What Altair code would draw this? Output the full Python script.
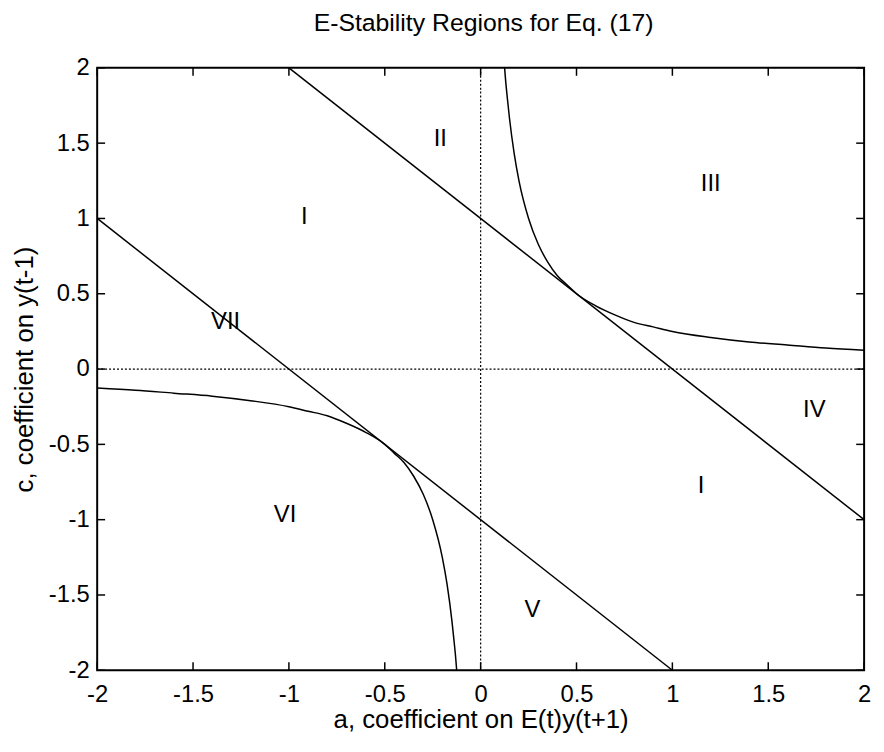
import altair as alt
import pandas as pd

# ---- data ----
x_ticks = [-2, -1.5, -1, -0.5, 0, 0.5, 1, 1.5, 2]
y_ticks = [-2, -1.5, -1, -0.5, 0, 0.5, 1, 1.5, 2]

line1_a = [-1.0, 2.0]
line1_c = [2.0, -1.0]
line2_a = [-2.0, 1.0]
line2_c = [1.0, -2.0]

upper_a = [0.125, 0.13, 0.14, 0.15, 0.175, 0.2, 0.25, 0.3, 0.35, 0.4, 0.45, 0.5,
           0.6, 0.7, 0.8, 0.9, 1.0, 1.2, 1.4, 1.6, 1.8, 2.0]
upper_c = [2.0, 1.92, 1.79, 1.67, 1.43, 1.25, 1.0, 0.83, 0.71, 0.62, 0.56, 0.5,
           0.42, 0.36, 0.31, 0.28, 0.25, 0.21, 0.18, 0.16, 0.14, 0.125]
lower_a = [-2.0, -1.8, -1.6, -1.4, -1.2, -1.0, -0.9, -0.8, -0.7, -0.6, -0.5, -0.45,
           -0.4, -0.35, -0.3, -0.25, -0.2, -0.175, -0.15, -0.14, -0.13, -0.125]
lower_c = [-0.125, -0.14, -0.16, -0.18, -0.21, -0.25, -0.28, -0.31, -0.36, -0.42, -0.5, -0.56,
           -0.62, -0.71, -0.83, -1.0, -1.25, -1.43, -1.67, -1.79, -1.92, -2.0]

region_labels = ["II", "III", "I", "VII", "IV", "I", "VI", "V"]
region_a = [-0.21, 1.20, -0.92, -1.33, 1.74, 1.15, -1.02, 0.27]
region_c = [1.53, 1.23, 1.01, 0.31, -0.27, -0.78, -0.97, -1.60]

title_text = ["E-Stability Regions for Eq. (17)"]
x_title = "a, coefficient on E(t)y(t+1)"
y_title = "c, coefficient on y(t-1)"

# ---- build tables ----
rows = []
for name, aa, cc in [("l1", line1_a, line1_c), ("l2", line2_a, line2_c),
                     ("up", upper_a, upper_c), ("lo", lower_a, lower_c)]:
    for i, (a, c) in enumerate(zip(aa, cc)):
        rows.append({"curve": name, "i": i, "a": a, "c": c})
curves = pd.DataFrame(rows)
labels = pd.DataFrame({"a": region_a, "c": region_c, "t": region_labels})
xt = pd.DataFrame({"a": x_ticks})
yt = pd.DataFrame({"c": y_ticks})
zero_x = pd.DataFrame({"a": [0]})
zero_y = pd.DataFrame({"c": [0]})
title_df = pd.DataFrame({"t": title_text})

W, H = 774, 608
FONT = "Liberation Sans"
TL = 8

xs = alt.Scale(domain=[-2, 2], nice=False, zero=False)
ys = alt.Scale(domain=[-2, 2], nice=False, zero=False)

xaxis = alt.Axis(values=x_ticks, labelExpr="toString(datum.value)", ticks=False, domain=False,
                 grid=False, labelFont=FONT, labelFontSize=24, labelColor="black",
                 labelPadding=12, labelFlush=False, labelOverlap=False, labelBound=False,
                 title=x_title, titleFont=FONT, titleFontSize=26, titleFontWeight="normal",
                 titleColor="black", titleY=58, titleBaseline="alphabetic")
yaxis = alt.Axis(values=y_ticks, labelExpr="toString(datum.value)", ticks=False, domain=False,
                 grid=False, labelFont=FONT, labelFontSize=24, labelColor="black",
                 labelPadding=8, labelFlush=False, labelOverlap=False, labelBound=False,
                 title=y_title, titleFont=FONT, titleFontSize=26, titleFontWeight="normal",
                 titleColor="black", titleX=-65, titleY=H / 2, titleAngle=-90,
                 titleBaseline="alphabetic", titleAlign="center")

X = alt.X("a:Q", scale=xs, axis=xaxis)
Y = alt.Y("c:Q", scale=ys, axis=yaxis)

lines = alt.Chart(curves).mark_line(color="black", strokeWidth=1.5, interpolate="monotone").encode(
    x=X, y=Y, detail="curve:N", order="i:Q")

vdot = alt.Chart(zero_x).mark_rule(color="black", strokeWidth=1.2, strokeDash=[2, 2]).encode(
    x=X, y=alt.value(0), y2=alt.value(H))
hdot = alt.Chart(zero_y).mark_rule(color="black", strokeWidth=1.2, strokeDash=[2, 2]).encode(
    y=Y, x=alt.value(0), x2=alt.value(W))

tick_bottom = alt.Chart(xt).mark_rule(color="black", strokeWidth=1.5).encode(
    x=X, y=alt.value(H), y2=alt.value(H - TL))
tick_top = alt.Chart(xt).mark_rule(color="black", strokeWidth=1.5).encode(
    x=X, y=alt.value(0), y2=alt.value(TL))
tick_left = alt.Chart(yt).mark_rule(color="black", strokeWidth=1.5).encode(
    y=Y, x=alt.value(0), x2=alt.value(TL))
tick_right = alt.Chart(yt).mark_rule(color="black", strokeWidth=1.5).encode(
    y=Y, x=alt.value(W), x2=alt.value(W - TL))

texts = alt.Chart(labels).mark_text(font=FONT, fontSize=24, color="black",
                                    align="center", baseline="middle").encode(
    x=X, y=Y, text="t:N")

title_mark = alt.Chart(title_df).mark_text(font=FONT, fontSize=25, color="black",
                                           align="center", baseline="alphabetic").encode(
    x=alt.value(W / 2 + 3), y=alt.value(-37), text="t:N")

chart = alt.layer(lines, vdot, hdot, tick_bottom, tick_top, tick_left, tick_right, texts,
                  title_mark).properties(
    width=W, height=H,
    autosize=alt.AutoSizeParams(type="none"),
    padding={"left": 90, "top": 57, "right": 12, "bottom": 71},
).configure(background="white").configure_view(stroke="black", strokeWidth=2)

chart.save("out.html", embed_options={"renderer": "svg", "actions": False})
